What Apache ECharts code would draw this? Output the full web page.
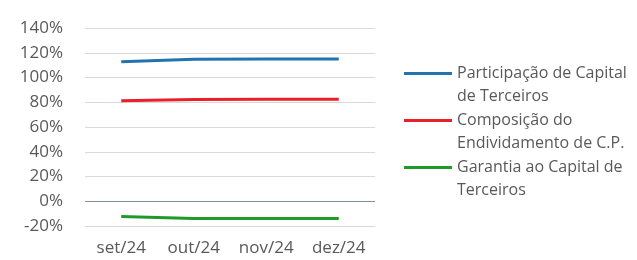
<!doctype html>
<html>
<head>
<meta charset="UTF-8">
<title></title>
<style type="text/css">
	html, body { margin: 0; padding: 0; background: #fff; }
	#chart { width: 637px; height: 260px; }
</style>
</head>
<body>
<div id="chart"></div>
<script src="https://cdn.jsdelivr.net/npm/echarts@6/dist/echarts.min.js"></script>
<script type="text/javascript">
	var categories = ['set/24', 'out/24', 'nov/24', 'dez/24'];
	var seriesNames = ['Participação de Capital de Terceiros', 'Composição do Endividamento de C.P.', 'Garantia ao Capital de Terceiros'];
	// linha vazia no início: o ícone fica alinhado com a primeira linha do texto
	var legendLabels = ['\nParticipação de Capital\nde Terceiros', '\nComposição do\nEndividamento de C.P.', '\nGarantia ao Capital de\nTerceiros'];
	var participacao = [112.8, 114.8, 115, 115];
	var composicao = [81.3, 82.3, 82.4, 82.4];
	var garantia = [-12.3, -14, -14, -14];
	var colors = ['#2273b0', '#e8202a', '#1f9a2a'];

	var chart = echarts.init(document.getElementById('chart'));

	// uma legenda por série, para controlar a posição de cada uma
	var legends = seriesNames.map(function (name, i) {
		return {
			orient: 'vertical',
			left: 404,
			top: 39 + i * 47,
			padding: 0,
			icon: 'rect',
			itemWidth: 48,
			itemHeight: 3,
			data: [name],
			formatter: function () { return legendLabels[i]; },
			textStyle: {
				color: '#595959',
				fontSize: 16,
				fontFamily: 'Open Sans',
				lineHeight: 23
			}
		};
	});

	var option = {
		animation: false,
		color: colors,
		legend: legends,
		grid: { left: 85, right: 262, top: 28, bottom: 34 },
		xAxis: {
			type: 'category',
			data: categories,
			axisLine: { show: false },
			axisTick: { show: false },
			axisLabel: { color: '#595959', fontSize: 17, fontFamily: 'Open Sans', margin: 14 }
		},
		yAxis: {
			type: 'value',
			min: -20,
			max: 140,
			interval: 20,
			axisLine: { show: false },
			axisTick: { show: false },
			axisLabel: {
				color: '#595959', fontSize: 17, fontFamily: 'Open Sans', margin: 22,
				formatter: '{value}%'
			},
			splitLine: { lineStyle: { color: '#d9d9d9', width: 1 } }
		},
		series: [
			{ name: seriesNames[0], type: 'line', data: participacao, symbol: 'none', lineStyle: { width: 3 },
				markLine: {
					silent: true, symbol: 'none', label: { show: false },
					lineStyle: { color: '#7f8fa0', type: 'solid', width: 1 },
					data: [{ yAxis: 0 }]
				}
			},
			{ name: seriesNames[1], type: 'line', data: composicao, symbol: 'none', lineStyle: { width: 3 } },
			{ name: seriesNames[2], type: 'line', data: garantia, symbol: 'none', lineStyle: { width: 3 } }
		]
	};

	chart.setOption(option);
</script>
</body>
</html>
